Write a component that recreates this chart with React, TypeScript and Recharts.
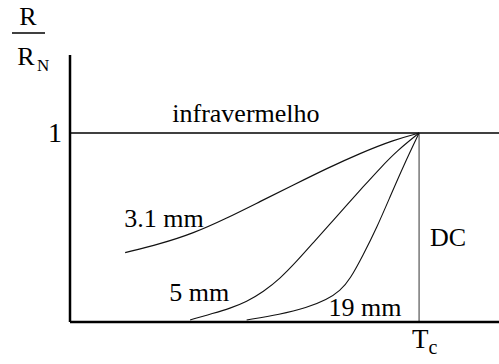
import React from 'react';
import { LineChart, Line, XAxis, YAxis, ReferenceLine, ReferenceDot } from 'recharts';

// Temperature (T / Tc) and normalized resistance R/RN for each curve
const curve31T = [0.158, 0.258, 0.353, 0.449, 0.544, 0.640, 0.736, 0.831, 0.926, 1.0];
const curve31R = [0.367, 0.413, 0.469, 0.549, 0.637, 0.725, 0.813, 0.893, 0.963, 1.0];

const curve5T = [0.344, 0.411, 0.458, 0.506, 0.554, 0.602, 0.650, 0.697, 0.745, 0.793, 0.840, 0.888, 0.936, 1.0];
const curve5R = [0.011, 0.046, 0.072, 0.107, 0.160, 0.230, 0.322, 0.420, 0.519, 0.619, 0.716, 0.813, 0.905, 1.0];

const curve19T = [0.506, 0.602, 0.678, 0.736, 0.774, 0.802, 0.840, 0.879, 0.917, 0.955, 1.0];
const curve19R = [0.011, 0.040, 0.075, 0.118, 0.165, 0.225, 0.355, 0.500, 0.663, 0.825, 1.0];

const xTicks = [1];
const yTicks = [1];

// label anchor points (T, R)
const labelNames = ['infravermelho', '3.1 mm', '5 mm', '19 mm', 'DC'];
const labelT = [0.504, 0.269, 0.370, 0.845, 1.083];
const labelR = [1.106, 0.550, 0.159, 0.079, 0.45];

const toPoints = (t: number[], r: number[]) => t.map((v, i) => ({ t: v, r: r[i] }));

const FONT = 'Liberation Serif';

const XTick = (props: any) => {
  const { x, y } = props;
  return (
    <text x={x - 7} y={y + 18} fontFamily={FONT} fontSize={27} fill="#000" textAnchor="start">
      <tspan>T</tspan>
      <tspan dy={6} fontSize={20}>c</tspan>
    </text>
  );
};

const YTick = (props: any) => {
  const { x, y } = props;
  return (
    <text x={x} y={y} dy={9} fontFamily={FONT} fontSize={28} fill="#000" textAnchor="end">
      1
    </text>
  );
};

const RLabel = (props: any) => {
  const vb = props.viewBox || {};
  const x0 = (vb.x ?? 0) + 12;
  const y0 = vb.y ?? 55;
  return (
    <g fill="#000">
      <text x={x0 + 16} y={y0 - 30} fontSize={26} textAnchor="middle" fontFamily={FONT}>R</text>
      <line x1={x0} x2={x0 + 33} y1={y0 - 22} y2={y0 - 22} stroke="#000" strokeWidth={1.5} />
      <text x={x0 + 14} y={y0 + 10} fontSize={26} textAnchor="middle" fontFamily={FONT}>R</text>
      <text x={x0 + 25} y={y0 + 16} fontSize={17} textAnchor="start" fontFamily={FONT}>N</text>
    </g>
  );
};

const TextLabel = (props: any) => {
  const vb = props.viewBox || {};
  const cx = (vb.x ?? 0) + (vb.width ?? 0) / 2;
  const cy = (vb.y ?? 0) + (vb.height ?? 0) / 2;
  return (
    <text x={cx} y={cy} dy={9} textAnchor="middle" fontSize={26} fill="#000" fontFamily={FONT}>
      {props.value}
    </text>
  );
};

export default function App() {
  const d31 = toPoints(curve31T, curve31R);
  const d5 = toPoints(curve5T, curve5R);
  const d19 = toPoints(curve19T, curve19R);
  return (
    <div style={{ position: 'absolute', left: 0, top: 0, background: '#fff' }}>
      <LineChart width={499} height={364} margin={{ top: 55, right: 0, bottom: 0, left: 0 }}>
        <XAxis
          type="number"
          dataKey="t"
          domain={[0, 1.229]}
          ticks={xTicks}
          tick={<XTick />}
          tickLine={false}
          height={42}
          axisLine={{ stroke: '#000', strokeWidth: 2.5 }}
          allowDataOverflow
        />
        <YAxis
          type="number"
          dataKey="r"
          domain={[0, 1.413]}
          ticks={yTicks}
          tick={<YTick />}
          tickLine={false}
          width={70}
          axisLine={{ stroke: '#000', strokeWidth: 2.5 }}
          label={{ content: <RLabel /> }}
          allowDataOverflow
        />
        <ReferenceLine y={1} stroke="#000" strokeWidth={1.5} />
        <ReferenceLine
          segment={[{ x: 1, y: 0 }, { x: 1, y: 1 }]}
          stroke="#333"
          strokeWidth={1}
        />
        <Line data={d31} dataKey="r" type="basis" stroke="#111" strokeWidth={1.2} dot={false} isAnimationActive={false} />
        <Line data={d5} dataKey="r" type="basis" stroke="#111" strokeWidth={1.1} dot={false} isAnimationActive={false} />
        <Line data={d19} dataKey="r" type="basis" stroke="#111" strokeWidth={1.1} dot={false} isAnimationActive={false} />
        {labelNames.map((name, i) => (
          <ReferenceDot
            key={name}
            x={labelT[i]}
            y={labelR[i]}
            r={0}
            stroke="none"
            fill="none"
            label={{ value: name, content: <TextLabel value={name} /> }}
          />
        ))}
      </LineChart>
    </div>
  );
}
